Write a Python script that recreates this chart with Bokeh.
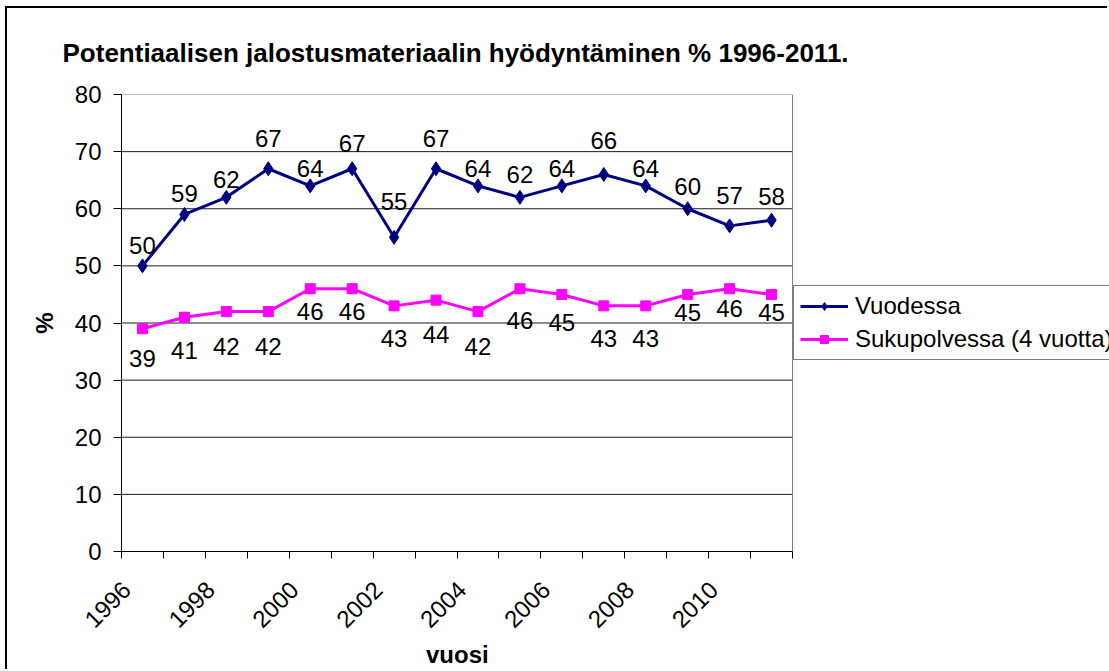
import math
from bokeh.plotting import figure
from bokeh.models import (ColumnDataSource, FixedTicker, Legend, LegendItem, Range1d,
                          PrintfTickFormatter, Title)
from bokeh.core.properties import value
from bokeh.embed import file_html
from bokeh.resources import INLINE

# ---------------- data ----------------
years = [1996, 1997, 1998, 1999, 2000, 2001, 2002, 2003,
         2004, 2005, 2006, 2007, 2008, 2009, 2010, 2011]
vuodessa = [50, 59, 62, 67, 64, 67, 55, 67, 64, 62, 64, 66, 64, 60, 57, 58]
sukupolvessa = [39, 41, 42, 42, 46, 46, 43, 44, 42, 46, 45, 43, 43, 45, 46, 45]
x_tick_labels = ["1996", "1998", "2000", "2002", "2004", "2006", "2008", "2010"]
y_ticks = [0, 10, 20, 30, 40, 50, 60, 70, 80]
series_names = ["Vuodessa", "Sukupolvessa (4 vuotta)"]
x_title = "vuosi"
y_title = "%"
chart_title = "Potentiaalisen jalostusmateriaalin hyödyntäminen % 1996-2011."

# label placement (screen px, + = down)
vuo_label_dy = [-20, -21, -18, -30, -17, -25, -36, -30, -17, -23, -17, -34, -17, -22, -30, -24]
suk_label_dy = [30, 33, 35, 35, 23, 23, 33, 34, 35, 32, 28, 33, 33, 18, 20, 18]

FONT = "Liberation Sans"
NAVY = "#000080"
MAGENTA = "#FF00FF"
GRID = "#1a1a1a"
EDGE = "#808080"

W, H = 1102, 663
FL, FT, FW, FH = 114, 85, 671, 458   # plot area (px inside canvas)

x0, x1 = years[0] - 0.5, years[-1] + 0.5
px_per_unit = FW / (x1 - x0)
x_end = x0 + (W - FL) / px_per_unit

src = ColumnDataSource(dict(
    x=years, vuo=vuodessa, suk=sukupolvessa,
    vuo_t=[str(v) for v in vuodessa], suk_t=[str(v) for v in sukupolvessa],
    vuo_dy=vuo_label_dy, suk_dy=suk_label_dy,
))

p = figure(width=W, height=H, output_backend="svg", toolbar_location=None,
           x_range=Range1d(x0, x_end),
           y_range=Range1d(y_ticks[0], y_ticks[-1]),
           min_border_left=FL, min_border_right=0,
           min_border_top=FT, min_border_bottom=H - FT - FH,
           background_fill_color="white", border_fill_color="white")
p.styles = {"margin-left": "5px", "margin-top": "6px",
            "border-top": "2px solid black", "border-left": "2px solid black"}

p.outline_line_color = None

# title
p.title.text = chart_title
p.title.text_font = FONT
p.title.text_font_size = "26px"
p.title.text_font_style = "bold"
p.title.text_color = "black"
p.title.align = "left"
p.title.offset = -59
p.title.standoff = 54

# grid lines (limited to the plot area)
p.xgrid.visible = False
p.ygrid.visible = False
inner = y_ticks[1:-1]
p.segment(x0=[x0] * len(inner), y0=inner, x1=[x1] * len(inner), y1=inner,
          line_color=GRID, line_width=1)
p.segment(x0=[x0], y0=[y_ticks[-1]], x1=[x1], y1=[y_ticks[-1]],
          line_color=EDGE, line_width=1)
p.segment(x0=[x1], y0=[y_ticks[0]], x1=[x1], y1=[y_ticks[-1]],
          line_color=EDGE, line_width=1)

# y axis
ya = p.yaxis[0]
ya.ticker = FixedTicker(ticks=y_ticks)
ya.axis_line_color = "black"
ya.major_tick_line_color = "black"
ya.major_tick_in = 0
ya.major_tick_out = 8
ya.minor_tick_line_color = None
ya.major_label_text_font = FONT
ya.major_label_text_font_size = "24px"
ya.major_label_text_color = "black"
ya.major_label_standoff = 12
ya.axis_label = y_title
ya.axis_label_text_font = FONT
ya.axis_label_text_font_size = "24px"
ya.axis_label_text_font_style = "bold"
ya.axis_label_text_color = "black"
ya.axis_label_standoff = 14

# x axis
xa = p.xaxis[0]
label_shift = 0.38
major = [int(t) - label_shift for t in x_tick_labels]
xa.ticker = FixedTicker(ticks=major,
                        minor_ticks=[y - 0.5 for y in years] + [x1])
xa.formatter = PrintfTickFormatter(format="%.0f")
xa.bounds = (x0, x1)
xa.axis_line_color = "black"
xa.major_tick_line_color = None
xa.minor_tick_line_color = "black"
xa.minor_tick_in = 0
xa.minor_tick_out = 7
xa.major_label_orientation = math.pi / 4
xa.major_label_text_font = FONT
xa.major_label_text_font_size = "24px"
xa.major_label_text_color = "black"
xa.major_label_standoff = 27

# x axis title, centred under the plot area
xt = Title(text=x_title, align="left", offset=FW / 2 - 31, standoff=0,
           text_font=FONT, text_font_size="24px", text_font_style="bold",
           text_color="black")
p.add_layout(xt, "below")

# series
l1 = p.line("x", "vuo", source=src, line_color=NAVY, line_width=3)
m1 = p.scatter("x", "vuo", source=src, marker="diamond", size=14,
               fill_color=NAVY, line_color=NAVY)
l2 = p.line("x", "suk", source=src, line_color=MAGENTA, line_width=3)
m2 = p.scatter("x", "suk", source=src, marker="square", size=10,
               fill_color=MAGENTA, line_color=MAGENTA)

p.text("x", "vuo", text="vuo_t", source=src, y_offset="vuo_dy",
       text_align="center", text_baseline="middle",
       text_font=value(FONT), text_font_size="24px", text_color="black")
p.text("x", "suk", text="suk_t", source=src, y_offset="suk_dy",
       text_align="center", text_baseline="middle",
       text_font=value(FONT), text_font_size="24px", text_color="black")

legend = Legend(items=[LegendItem(label=series_names[0], renderers=[l1, m1]),
                       LegendItem(label=series_names[1], renderers=[l2, m2])],
                location=(FW + 1, 191), margin=0, padding=6, spacing=5,
                glyph_width=48, glyph_height=20, label_height=20, label_standoff=7,
                label_text_font=FONT, label_text_font_size="24px",
                label_text_color="black",
                border_line_color="black", border_line_width=1,
                background_fill_color="white", background_fill_alpha=1)
p.add_layout(legend, "center")

open("out.html", "w").write(file_html(p, INLINE))
